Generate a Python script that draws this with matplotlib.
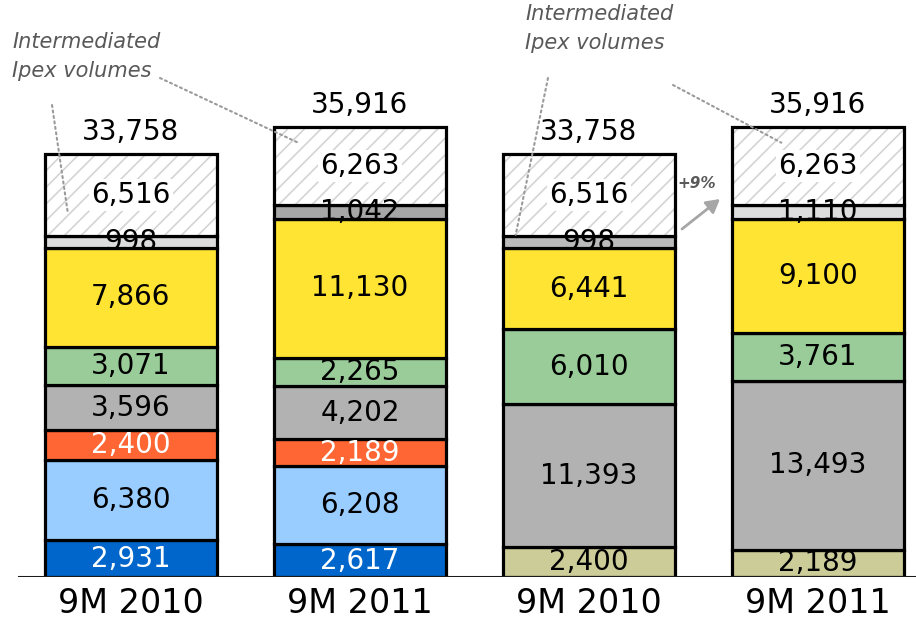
import matplotlib
matplotlib.use("Agg")
import matplotlib.pyplot as plt
import numpy as np

plt.rcParams['font.family'] = ['DejaVu Sans']
plt.rcParams['hatch.linewidth'] = 1.2

categories = ["9M 2010", "9M 2011", "9M 2010", "9M 2011"]
dark_blue = [2931, 2617, 0, 0]
khaki = [0, 0, 2400, 2189]
light_blue = [6380, 6208, 0, 0]
orange = [2400, 2189, 0, 0]
gray = [3596, 4202, 11393, 13493]
green = [3071, 2265, 6010, 3761]
yellow = [7866, 11130, 6441, 9100]
other = [998, 1042, 998, 1110]
intermediated = [6516, 6263, 6516, 6263]

series = [
    (dark_blue, ['#0066CC'] * 4, 'white'),
    (khaki, ['#CCCC99'] * 4, 'black'),
    (light_blue, ['#99CCFF'] * 4, 'black'),
    (orange, ['#FF6633'] * 4, 'white'),
    (gray, ['#B2B2B2'] * 4, 'black'),
    (green, ['#99CC99'] * 4, 'black'),
    (yellow, ['#FFE433'] * 4, 'black'),
    (other, ['#DDDDDD', '#A6A6A6', '#BBBBBB', '#DDDDDD'], 'black'),
]

W, H = 916, 620
fig = plt.figure(figsize=(W / 100, H / 100), dpi=100)
ax = fig.add_axes([18 / W, 43 / H, (W - 18) / W, 577 / H])
ax.set_xlim(-0.493, 3.428)
ax.set_ylim(0, 46050)
for s in ax.spines.values():
    s.set_visible(False)
ax.set_yticks([])

x = np.arange(len(categories))
width = 0.75
lw = 2.3
bottom = np.zeros(len(categories))

for vals, colors, tcol in series:
    v = np.array(vals, dtype=float)
    for i in range(len(x)):
        if v[i] <= 0:
            continue
        ax.bar(x[i], v[i], width, bottom=bottom[i], color=colors[i],
               edgecolor='black', linewidth=lw, zorder=2)
        ax.text(x[i], bottom[i] + v[i] / 2, f"{int(v[i]):,}", ha='center',
                va='center', fontsize=20, color=tcol, zorder=5)
    bottom += v

# hatched intermediated segment
v = np.array(intermediated, dtype=float)
ax.bar(x, v, width, bottom=bottom, color='white', edgecolor='#D4D4D4',
       hatch='//', linewidth=0, zorder=2)
ax.bar(x, v, width, bottom=bottom, color='none', edgecolor='black',
       linewidth=lw, zorder=3)
for i in range(len(x)):
    ax.text(x[i], bottom[i] + v[i] / 2, f"{int(v[i]):,}", ha='center',
            va='center', fontsize=20, color='black', zorder=5,
            bbox=dict(facecolor='white', edgecolor='none', pad=1.5))
hatch_bottom = bottom.copy()
bottom += v

# totals
for i in range(len(x)):
    ax.annotate(f"{int(bottom[i]):,}", (x[i], bottom[i]), xytext=(0, 8),
                textcoords='offset pixels', ha='center', va='bottom',
                fontsize=20, color='black')

ax.axhline(0, color='#1a1a1a', linewidth=2.2, zorder=4)
ax.set_xticks(x)
ax.set_xticklabels(categories, fontsize=24)
ax.tick_params(axis='x', length=0, pad=7)

# annotations
def fp(px, py):
    return (px / W, 1 - py / H)

ann_col = '#595959'
fig.text(12 / W, 1 - 32 / H, "Intermediated\nIpex volumes", ha='left', va='top',
         fontsize=15, style='italic', color=ann_col, linespacing=1.55)
fig.text(525 / W, 1 - 4 / H, "Intermediated\nIpex volumes", ha='left', va='top',
         fontsize=15, style='italic', color=ann_col, linespacing=1.55)

lines = [
    ((52, 105), 0, -0.275, 0.27),
    ((160, 78), 1, -0.27, 0.80),
    ((548, 78), 2, -0.32, 0.01),
    ((673, 85), 3, -0.16, 0.80),
]
for (px, py), i, dx, frac in lines:
    ax.annotate("", xy=(x[i] + dx, hatch_bottom[i] + frac * v[i]),
                xycoords='data', xytext=fp(px, py), textcoords='figure fraction',
                arrowprops=dict(arrowstyle='-', color='#9A9A9A', linestyle=':',
                                linewidth=1.5, shrinkA=0, shrinkB=0), zorder=6)

fig.text(697 / W, 1 - 183 / H, "+9%", ha='center', va='center', fontsize=11,
         fontweight='bold', style='italic', color=ann_col)
ax.annotate("", xy=fp(720, 199), xycoords='figure fraction',
            xytext=fp(682, 229), textcoords='figure fraction',
            arrowprops=dict(arrowstyle='-|>,head_length=0.8,head_width=0.45',
                            color='#A6A6A6', linewidth=2, shrinkA=0, shrinkB=0))

fig.savefig("out.png", dpi=100)
